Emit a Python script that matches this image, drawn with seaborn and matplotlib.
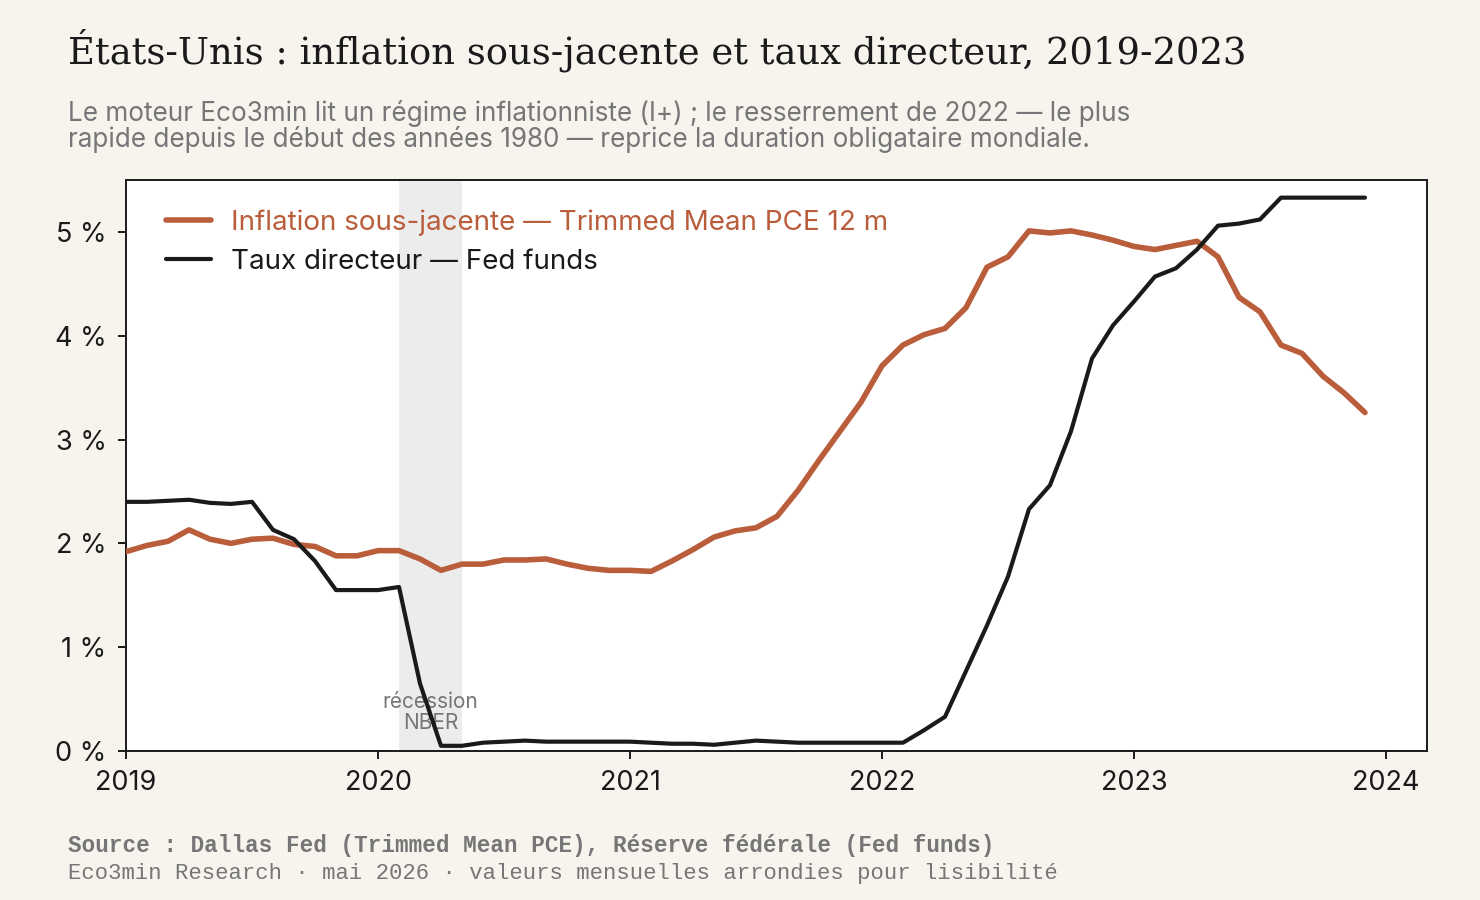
import numpy as np
import pandas as pd
import matplotlib
matplotlib.use("Agg")
import matplotlib.pyplot as plt
import seaborn as sns

# ---------------------------------------------------------------
# data : monthly values, Jan 2019 -> Dec 2023
# ---------------------------------------------------------------
months = pd.date_range("2019-01-01", "2023-12-01", freq="MS")

trimmed_pce = [1.92, 1.98, 2.02, 2.13, 2.04, 2.00, 2.04, 2.05, 1.99, 1.97, 1.88, 1.88,
               1.93, 1.93, 1.85, 1.74, 1.80, 1.80, 1.84, 1.84, 1.85, 1.80, 1.76, 1.74,
               1.74, 1.73, 1.83, 1.94, 2.06, 2.12, 2.15, 2.26, 2.51, 2.80, 3.08, 3.36,
               3.71, 3.91, 4.01, 4.07, 4.27, 4.66, 4.76, 5.01, 4.99, 5.01, 4.97, 4.92,
               4.86, 4.83, 4.87, 4.91, 4.76, 4.37, 4.23, 3.91, 3.83, 3.61, 3.45, 3.26]

fed_funds = [2.40, 2.40, 2.41, 2.42, 2.39, 2.38, 2.40, 2.13, 2.04, 1.83, 1.55, 1.55,
             1.55, 1.58, 0.65, 0.05, 0.05, 0.08, 0.09, 0.10, 0.09, 0.09, 0.09, 0.09,
             0.09, 0.08, 0.07, 0.07, 0.06, 0.08, 0.10, 0.09, 0.08, 0.08, 0.08, 0.08,
             0.08, 0.08, 0.20, 0.33, 0.77, 1.21, 1.68, 2.33, 2.56, 3.08, 3.78, 4.10,
             4.33, 4.57, 4.65, 4.83, 5.06, 5.08, 5.12, 5.33, 5.33, 5.33, 5.33, 5.33]

series_labels = ["Inflation sous-jacente — Trimmed Mean PCE 12 m",
                 "Taux directeur — Fed funds"]
year_ticks = [2019, 2020, 2021, 2022, 2023, 2024]
pct_ticks = [0, 1, 2, 3, 4, 5]
recession = (2020 + 1 / 12, 2020 + 4 / 12)   # NBER : fév. -> avr. 2020

# decimal years for the x axis
t = months.year + (months.month - 1) / 12
df = pd.DataFrame({"t": t, "pce": trimmed_pce, "ff": fed_funds})

# ---------------------------------------------------------------
# style
# ---------------------------------------------------------------
BG = "#f7f4ee"
ORANGE = "#b95d3b"
INK = "#1a1a1a"
GREY = "#767676"

sns.set_theme(style="ticks")
plt.rcParams["font.family"] = ["Inter", "DejaVu Sans"]

fig = plt.figure(figsize=(14.8, 9), dpi=100, facecolor=BG)
ax = fig.add_axes([126 / 1480, 1 - 751 / 900, (1427 - 126) / 1480, (751 - 180) / 900])
ax.set_facecolor("white")

# recession band
ax.axvspan(recession[0], recession[1], color="#ececec", lw=0, zorder=0)
ax.text(sum(recession) / 2, 0.17, "récession\nNBER", ha="center", va="bottom",
        fontsize=15, color=GREY, linespacing=1.1, zorder=1)

sns.lineplot(data=df, x="t", y="pce", ax=ax, color=ORANGE, lw=4.0,
             label=series_labels[0], zorder=3)
sns.lineplot(data=df, x="t", y="ff", ax=ax, color=INK, lw=3.0,
             label=series_labels[1], zorder=4)

ax.set_xlim(2019, 2024 + 41 / 252)
ax.set_ylim(0, 5.5)
ax.set_xticks(year_ticks)
ax.set_xticklabels([str(y) for y in year_ticks])
ax.set_yticks(pct_ticks)
ax.set_yticklabels([f"{p} %" for p in pct_ticks])
ax.set_xlabel("")
ax.set_ylabel("")
ax.tick_params(axis="both", labelsize=19.5, colors=INK, length=6, width=1.4, pad=8)
for sp in ax.spines.values():
    sp.set_visible(True)
    sp.set_color(INK)
    sp.set_linewidth(1.4)

leg = ax.legend(loc="upper left", bbox_to_anchor=(0.031, 0.949), frameon=False,
                fontsize=20, handlelength=1.62, handletextpad=0.72,
                labelspacing=0.47, borderpad=0, borderaxespad=0)
for txt, col in zip(leg.get_texts(), [ORANGE, INK]):
    txt.set_color(col)
for h, w in zip(leg.get_lines(), [4.0, 3.0]):
    h.set_linewidth(w)

# ---------------------------------------------------------------
# titles and footer
# ---------------------------------------------------------------
fig.text(68 / 1480, 1 - 63 / 900,
         "États-Unis : inflation sous-jacente et taux directeur, 2019-2023",
         family=["DejaVu Serif"], fontsize=26.6, color=INK,
         va="baseline", ha="left")
fig.text(68 / 1480, 1 - 121 / 900,
         "Le moteur Eco3min lit un régime inflationniste (I+) ; le resserrement de 2022 — le plus",
         fontsize=18.8, color=GREY, va="baseline", ha="left")
fig.text(68 / 1480, 1 - 147 / 900,
         "rapide depuis le début des années 1980 — reprice la duration obligataire mondiale.",
         fontsize=18.8, color=GREY, va="baseline", ha="left")

fig.text(68 / 1480, 1 - 852 / 900,
         "Source : Dallas Fed (Trimmed Mean PCE), Réserve fédérale (Fed funds)",
         family=["Liberation Mono", "DejaVu Sans Mono"], fontsize=16.3,
         fontweight="bold", color=GREY, va="baseline", ha="left")
fig.text(68 / 1480, 1 - 879 / 900,
         "Eco3min Research · mai 2026 · valeurs mensuelles arrondies pour lisibilité",
         family=["Liberation Mono", "DejaVu Sans Mono"], fontsize=16.0,
         color=GREY, va="baseline", ha="left")

fig.savefig("out.png", dpi=100, facecolor=BG)
